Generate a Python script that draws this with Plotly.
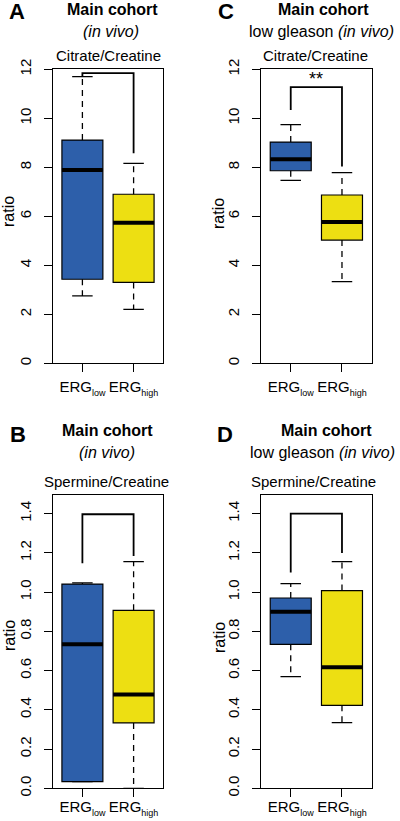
import plotly.graph_objects as go

# ---------------- data ----------------
groups = ["ERG<sub><span style='font-size:9px'>low</span></sub>",
          "ERG<sub><span style='font-size:9px'>high</span></sub>"]
positions = [1, 2]

# panel A : Citrate/Creatine, main cohort
A_lower = [2.75, 2.20]
A_q1 = [3.43, 3.30]
A_median = [7.89, 5.74]
A_q3 = [9.11, 6.90]
A_upper = [11.70, 8.16]
A_bracket = [11.70, 11.84, 8.57]   # left foot, top, right foot

# panel C : Citrate/Creatine, low gleason
C_lower = [7.47, 3.33]
C_q1 = [7.86, 5.03]
C_median = [8.33, 5.77]
C_q3 = [9.03, 6.87]
C_upper = [9.74, 7.78]
C_bracket = [10.34, 11.27, 8.03]

# panel B : Spermine/Creatine, main cohort
B_lower = [0.034, 0.0]
B_q1 = [0.034, 0.333]
B_median = [0.734, 0.478]
B_q3 = [1.041, 0.907]
B_upper = [1.047, 1.155]
B_bracket = [1.147, 1.397, 1.184]

# panel D : Spermine/Creatine, low gleason
D_lower = [0.569, 0.335]
D_q1 = [0.734, 0.423]
D_median = [0.900, 0.617]
D_q3 = [0.970, 1.008]
D_upper = [1.043, 1.155]
D_bracket = [1.10, 1.40, 1.20]

citrate_ticks = [0, 2, 4, 6, 8, 10, 12]
spermine_ticks = [0.0, 0.2, 0.4, 0.6, 0.8, 1.0, 1.2, 1.4]

# ---------------- style ----------------
W, H = 400, 821
FONT = "Liberation Sans, Arial, Helvetica, sans-serif"
COLORS = ["#2D5FAA", "#EDDF12"]
BOX_W = 0.8
CAP_W = 0.4

fig = go.Figure()

panels = [
    dict(ax="", lo=A_lower, q1=A_q1, me=A_median, q3=A_q3, up=A_upper, br=A_bracket),
    dict(ax="2", lo=C_lower, q1=C_q1, me=C_median, q3=C_q3, up=C_upper, br=C_bracket),
    dict(ax="3", lo=B_lower, q1=B_q1, me=B_median, q3=B_q3, up=B_upper, br=B_bracket),
    dict(ax="4", lo=D_lower, q1=D_q1, me=D_median, q3=D_q3, up=D_upper, br=D_bracket),
]

for p in panels:
    xa, ya = "x" + p["ax"], "y" + p["ax"]
    for i, pos in enumerate(positions):
        # dashed whiskers
        fig.add_trace(go.Scatter(
            x=[pos, pos, None, pos, pos],
            y=[p["q3"][i], p["up"][i], None, p["q1"][i], p["lo"][i]],
            mode="lines", line=dict(color="black", width=1.3, dash="6px,5px"),
            xaxis=xa, yaxis=ya, hoverinfo="skip", cliponaxis=False))
        # staples
        fig.add_trace(go.Scatter(
            x=[pos - CAP_W / 2, pos + CAP_W / 2, None, pos - CAP_W / 2, pos + CAP_W / 2],
            y=[p["up"][i], p["up"][i], None, p["lo"][i], p["lo"][i]],
            mode="lines", line=dict(color="black", width=1.3),
            xaxis=xa, yaxis=ya, hoverinfo="skip"))
        # box body
        fig.add_trace(go.Box(
            x=[pos], q1=[p["q1"][i]], median=[p["me"][i]], q3=[p["q3"][i]],
            lowerfence=[p["q1"][i]], upperfence=[p["q3"][i]],
            width=BOX_W, fillcolor=COLORS[i], line=dict(color="black", width=1.2),
            whiskerwidth=0, boxpoints=False, xaxis=xa, yaxis=ya, hoverinfo="skip"))
        # thick median
        fig.add_trace(go.Scatter(
            x=[pos - BOX_W / 2, pos + BOX_W / 2], y=[p["me"][i], p["me"][i]],
            mode="lines", line=dict(color="black", width=4),
            xaxis=xa, yaxis=ya, hoverinfo="skip"))
    # significance bracket
    b = p["br"]
    fig.add_trace(go.Scatter(
        x=[positions[0], positions[0], positions[1], positions[1]],
        y=[b[0], b[1], b[1], b[2]],
        mode="lines", line=dict(color="black", width=1.8),
        xaxis=xa, yaxis=ya, hoverinfo="skip"))


def px(x, y):
    return x / W, 1 - y / H


def xaxis_cfg(x0, x1, standoff):
    return dict(domain=[x0 / W, x1 / W], range=[0.42, 2.58],
                tickmode="array", tickvals=positions, ticktext=groups,
                tickangle=0, automargin=False, ticklabelstandoff=standoff,
                ticks="outside", ticklen=8, tickwidth=1.2, tickcolor="black",
                showline=True, mirror=True, linecolor="black", linewidth=1.3,
                showgrid=False, zeroline=False,
                tickfont=dict(family=FONT, size=15, color="black"), fixedrange=True)


def yaxis_cfg(y_top, y_bot, rng, ticks, fmt, anchor):
    return dict(domain=[1 - y_bot / H, 1 - y_top / H], range=rng, anchor=anchor,
                tickmode="array", tickvals=ticks,
                ticktext=[format(t, fmt) for t in ticks], automargin=False,
                tickangle=-90, ticks="outside", ticklen=8, tickwidth=1.2,
                tickcolor="black", ticklabelstandoff=7,
                showline=True, mirror=True, linecolor="black", linewidth=1.3,
                showgrid=False, zeroline=False,
                tickfont=dict(family=FONT, size=15, color="black"), fixedrange=True)


LX0, LX1 = 52.7, 163.3
RX0, RX1 = 261.0, 371.7
TY0, TY1 = 69.3, 363.3
BY0, BY1 = 495.0, 788.3

fig.update_layout(
    width=W, height=H, margin=dict(l=0, r=0, t=0, b=0, autoexpand=False),
    paper_bgcolor="white", plot_bgcolor="white", showlegend=False,
    boxmode="overlay",
    xaxis=dict(**xaxis_cfg(LX0, LX1, 2), anchor="y"),
    xaxis2=dict(**xaxis_cfg(RX0, RX1, 2), anchor="y2"),
    xaxis3=dict(**xaxis_cfg(LX0, LX1, -3), anchor="y3"),
    xaxis4=dict(**xaxis_cfg(RX0, RX1, -3), anchor="y4"),
    yaxis=yaxis_cfg(TY0, TY1, [0, 12], citrate_ticks, "d", "x"),
    yaxis2=yaxis_cfg(TY0, TY1, [0, 12], citrate_ticks, "d", "x2"),
    yaxis3=yaxis_cfg(BY0, BY1, [0, 1.495], spermine_ticks, ".1f", "x3"),
    yaxis4=yaxis_cfg(BY0, BY1, [0, 1.495], spermine_ticks, ".1f", "x4"),
)

ann = []


def text(x, y, s, size, bold=False, angle=0):
    xp, yp = px(x, y)
    ann.append(dict(x=xp, y=yp, xref="paper", yref="paper", text=s, showarrow=False,
                    xanchor="center", yanchor="middle", textangle=angle,
                    font=dict(family=FONT, size=size, color="black",
                              weight="bold" if bold else "normal")))


# panel letters
text(17, 11, "A", 22, True)
text(226, 11, "C", 22, True)
text(18, 434, "B", 22, True)
text(225, 434, "D", 22, True)

# headings
text(112, 10, "Main cohort", 16, True)
text(111, 31, "<i>(in vivo)</i>", 16)
text(108, 55, "Citrate/Creatine", 15)

text(323, 10, "Main cohort", 16, True)
text(321, 31, "low gleason <i>(in vivo)</i>", 16)
text(315.5, 55, "Citrate/Creatine", 15)

text(107, 431, "Main cohort", 16, True)
text(107, 452, "<i>(in vivo)</i>", 16)
text(106, 481, "Spermine/Creatine", 15)

text(326, 431, "Main cohort", 16, True)
text(322.5, 452, "low gleason <i>(in vivo)</i>", 16)
text(313, 481, "Spermine/Creatine", 15)

# y titles
text(9, 212, "ratio", 16, angle=-90)
text(218, 214, "ratio", 16, angle=-90)
text(9, 636, "ratio", 16, angle=-90)
text(219, 638, "ratio", 16, angle=-90)

# significance mark
ann.append(dict(x=1.5, y=C_bracket[1], xref="x2", yref="y2", text="**", showarrow=False,
                xanchor="center", yanchor="bottom", yshift=-4,
                font=dict(family=FONT, size=18, color="black")))

fig.update_layout(annotations=ann)
fig.write_html("out.html", config={"displayModeBar": False},
               post_script="document.body.style.margin='0';document.body.style.overflow='hidden';")
